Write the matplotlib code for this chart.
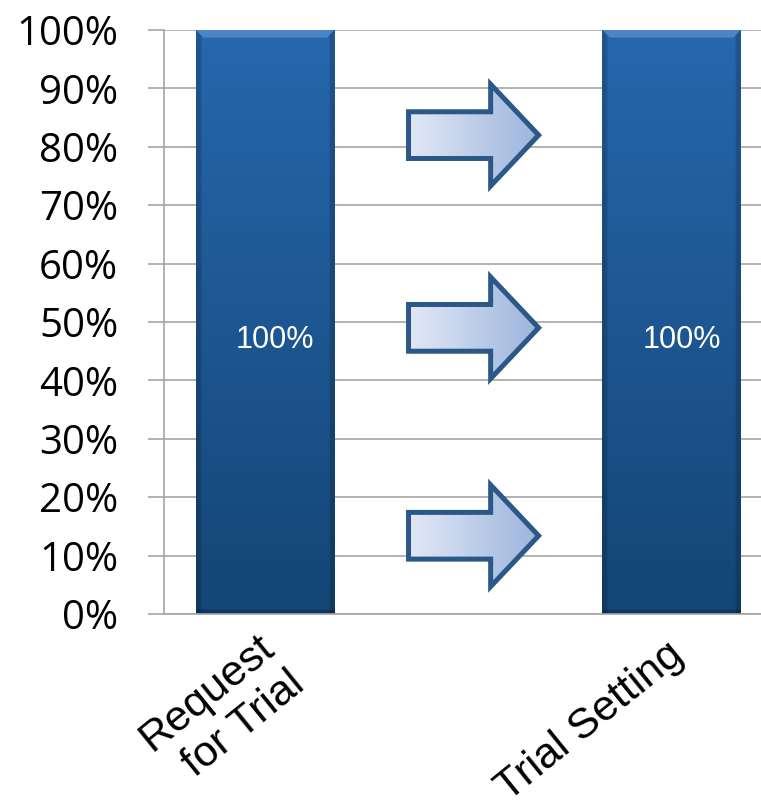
import numpy as np
import matplotlib
matplotlib.use("Agg")
import matplotlib.pyplot as plt
from matplotlib.patches import Polygon
from matplotlib.colors import to_rgb
import matplotlib.transforms as mtransforms

# ---- data ----
categories = ["Request\nfor Trial", "Trial Setting"]
values = [100, 100]
value_labels = ["100%", "100%"]
yticks = list(range(0, 101, 10))
ytick_labels = [f"{v}%" for v in yticks]

W, H = 761, 809
fig = plt.figure(figsize=(W / 100, H / 100), dpi=100)
ax = fig.add_axes([164 / W, 1 - 614 / H, (W - 164) / W, (614 - 30) / H])

x = np.arange(len(categories))
bar_w = 0.34
bars = ax.bar(x, values, width=bar_w, color="#1f5a9c", zorder=2)

ax.set_xlim(-0.2485, 1.22)
ax.set_ylim(0, 100)

# gradient fill for bars
def bar_gradient():
    ny, nx = 400, 80
    t = np.linspace(0, 1, ny)[:, None]  # 0 bottom -> 1 top
    bot = np.array(to_rgb("#144676"))
    top = np.array(to_rgb("#2767ad"))
    img = bot + (top - bot) * t[..., None]
    img = np.repeat(img, nx, axis=1)
    u = np.linspace(0, 1, nx)
    edge = np.minimum(u, 1 - u)
    fac = np.where(edge < 0.03, 0.82, 1.0)
    img = img * fac[None, :, None]
    img[:3, :, :] = img[:3, :, :] * 0.8
    return np.clip(img, 0, 1)

g = bar_gradient()
for b in bars:
    x0, y0 = b.get_x(), b.get_y()
    w, h = b.get_width(), b.get_height()
    im = ax.imshow(g, extent=[x0, x0 + w, y0, y0 + h], origin="lower",
                   aspect="auto", zorder=2.1, interpolation="bilinear")
    im.set_clip_path(b)
    b.set_facecolor("none")
    b.set_edgecolor("none")
    # top bevel
    bh, inset = 1.3, 0.018
    top_y = y0 + h
    bev = Polygon([(x0, top_y), (x0 + w, top_y), (x0 + w - inset, top_y - bh),
                   (x0 + inset, top_y - bh)], closed=True,
                  facecolor="#4b85c6", edgecolor="none", zorder=2.2)
    ax.add_patch(bev)

# value labels
for xi, v, lab in zip(x, values, value_labels):
    ax.text(xi + 0.025, v * 0.47, lab, color="white", fontsize=22,
            family="Liberation Sans", ha="center", va="center", zorder=3)

# arrows (decorative)
def draw_arrow(yc):
    x0, xh, xt = 0.353, 0.555, 0.673
    bh, hh = 4.0, 8.7
    verts = [(x0, yc - bh), (xh, yc - bh), (xh, yc - hh), (xt, yc),
             (xh, yc + hh), (xh, yc + bh), (x0, yc + bh)]
    poly = Polygon(verts, closed=True, facecolor="none", edgecolor="#2b5887",
                   lw=3.6, joinstyle="miter", zorder=4)
    ax.add_patch(poly)
    nx = 100
    c1 = np.array(to_rgb("#e1e8f5"))
    c2 = np.array(to_rgb("#9cb4dd"))
    u = np.linspace(0, 1, nx)[None, :, None]
    img = c1 + (c2 - c1) * u
    img = np.repeat(img, 2, axis=0)
    im = ax.imshow(img, extent=[x0, xt, yc - hh, yc + hh], origin="lower",
                   aspect="auto", zorder=3.9, interpolation="bilinear")
    clip = Polygon(verts, closed=True, transform=ax.transData)
    im.set_clip_path(clip)

for yc in [82.0, 49.0, 13.4]:
    draw_arrow(yc)

# axes styling
grid_c = "#a6a6a6"
ax.set_yticks(yticks)
ax.set_yticklabels(ytick_labels, fontsize=29, family="Open Sans")
ax.yaxis.grid(True, color=grid_c, lw=1.2, zorder=0)
ax.set_axisbelow(True)
for s in ["top", "right"]:
    ax.spines[s].set_visible(False)
for s in ["left", "bottom"]:
    ax.spines[s].set_color(grid_c)
    ax.spines[s].set_linewidth(1.2)
ax.tick_params(axis="y", length=11.5, width=1.2, color=grid_c, pad=21.5)
ax.tick_params(axis="x", length=0)

ax.set_xticks(x)
ax.set_xticklabels(categories, fontsize=31, family="Liberation Sans",
                   rotation=39, ha="right", va="top", rotation_mode="anchor",
                   multialignment="right", linespacing=1.25)
offsets = [(-8, -8), (-6, -16)]
for lab, (dx, dy) in zip(ax.get_xticklabels(), offsets):
    lab.set_transform(lab.get_transform() +
                      mtransforms.ScaledTranslation(dx / 100, dy / 100, fig.dpi_scale_trans))

fig.savefig("out.png", dpi=100)
